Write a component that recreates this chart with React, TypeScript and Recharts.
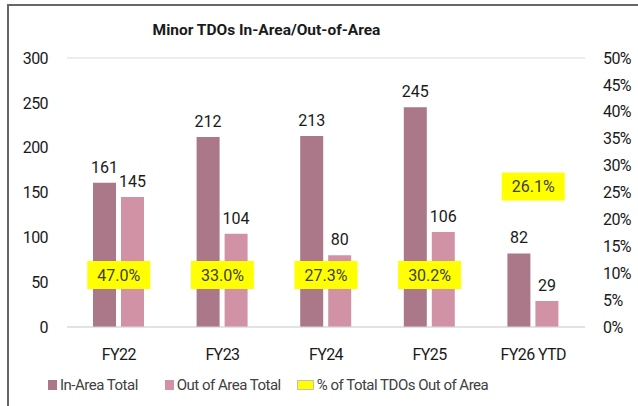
import { ComposedChart, Bar, Line, XAxis, YAxis, CartesianGrid, LabelList } from 'recharts';

const years = ['FY22', 'FY23', 'FY24', 'FY25', 'FY26 YTD'];
const inArea = [161, 212, 213, 245, 82];
const outArea = [145, 104, 80, 106, 29];
const pctOut = [0.47, 0.33, 0.273, 0.302, 0.261];

const countTicks = [0, 50, 100, 150, 200, 250, 300];
const pctTicks = [0, 0.05, 0.1, 0.15, 0.2, 0.25, 0.3, 0.35, 0.4, 0.45, 0.5];

const data = years.map((year, i) => ({
  year,
  inArea: inArea[i],
  outArea: outArea[i],
  pct: pctOut[i],
}));

const IN_COLOR = '#aa7888';
const OUT_COLOR = '#d292a6';
const TEXT = '#404040';
const FONT = 'Roboto, "Noto Sans", sans-serif';
const tickStyle = { fontSize: 16, fill: '#1a1a1a', fontFamily: FONT, letterSpacing: -0.6 };

// in the original, the first four % labels were dragged down to sit low over the bars
const DRAGGED_LABEL_Y = 275;

function PctLabel(props: any) {
  const { x, y, value, index } = props;
  if (value == null) return null;
  const cy = index === pctOut.length - 1 ? y : DRAGGED_LABEL_Y;
  return (
    <g>
      <rect x={x - 31.5} y={cy - 14} width={63} height={28} fill="#ffff00" />
      <text
        x={x}
        y={cy}
        textAnchor="middle"
        dominantBaseline="central"
        fontSize={16}
        fill={TEXT}
        fontFamily={FONT}
      >
        {(value * 100).toFixed(1)}%
      </text>
    </g>
  );
}

function LegendItem({ color, label, wide, gap }: { color: string; label: string; wide?: boolean; gap: number }) {
  return (
    <span style={{ display: 'inline-flex', alignItems: 'center', marginRight: gap }}>
      <span
        style={{
          display: 'inline-block',
          width: wide ? 15 : 9,
          height: wide ? 8 : 10,
          background: color,
          border: wide ? '1px solid #bfbfbf' : 'none',
          marginRight: 3,
        }}
      />
      {label}
    </span>
  );
}

export default function App() {
  return (
    <div
      style={{
        position: 'absolute',
        left: 0,
        top: 0,
        width: 638,
        height: 406,
        overflow: 'hidden',
        background: '#fff',
        fontFamily: FONT,
      }}
    >
      <div
        style={{
          position: 'absolute',
          left: 7,
          top: 4,
          width: 700,
          height: 500,
          border: '2px solid #666',
          boxSizing: 'border-box',
        }}
      />
      <div
        style={{
          position: 'absolute',
          left: 0,
          top: 21,
          width: 533,
          textAlign: 'center',
          fontWeight: 'bold',
          fontSize: 15.5,
          color: '#1a1a1a',
        }}
      >
        Minor TDOs In-Area/Out-of-Area
      </div>
      <div style={{ position: 'absolute', left: 0, top: 0 }}>
        <ComposedChart
          width={638}
          height={406}
          data={data}
          margin={{ top: 58, right: 0, bottom: 0, left: 0 }}
          barSize={23}
          barGap={5}
        >
          <CartesianGrid vertical={false} stroke="#d9d9d9" />
          <XAxis
            dataKey="year"
            axisLine={{ stroke: '#d9d9d9' }}
            tickLine={false}
            height={79}
            tickMargin={16}
            tick={tickStyle}
          />
          <YAxis
            yAxisId="left"
            domain={[0, 300]}
            ticks={countTicks}
            width={67}
            axisLine={false}
            tickLine={false}
            tickSize={0}
            tickMargin={19}
            tick={tickStyle}
          />
          <YAxis
            yAxisId="right"
            orientation="right"
            domain={[0, 0.5]}
            ticks={pctTicks}
            width={53}
            axisLine={false}
            tickLine={false}
            tickSize={0}
            tickMargin={18}
            tickFormatter={(v: number) => `${Math.round(v * 100)}%`}
            tick={{ ...tickStyle, textAnchor: 'start' }}
          />
          <Bar yAxisId="left" dataKey="inArea" fill={IN_COLOR} isAnimationActive={false}>
            <LabelList dataKey="inArea" position="top" offset={10} fontSize={16} fill="#1a1a1a" fontFamily={FONT} />
          </Bar>
          <Bar yAxisId="left" dataKey="outArea" fill={OUT_COLOR} isAnimationActive={false}>
            <LabelList dataKey="outArea" position="top" offset={10} fontSize={16} fill="#1a1a1a" fontFamily={FONT} />
          </Bar>
          <Line
            yAxisId="right"
            dataKey="pct"
            stroke="none"
            dot={false}
            activeDot={false}
            isAnimationActive={false}
          >
            <LabelList dataKey="pct" content={PctLabel} />
          </Line>
        </ComposedChart>
      </div>
      <div
        style={{
          position: 'absolute',
          left: 48,
          top: 376,
          fontSize: 15,
          letterSpacing: -0.5,
          color: TEXT,
          whiteSpace: 'nowrap',
          display: 'flex',
        }}
      >
        <LegendItem color={IN_COLOR} label="In-Area Total" gap={27} />
        <LegendItem color={OUT_COLOR} label="Out of Area Total" gap={16} />
        <LegendItem color="#ffff00" label="% of Total TDOs Out of Area" wide gap={0} />
      </div>
    </div>
  );
}
